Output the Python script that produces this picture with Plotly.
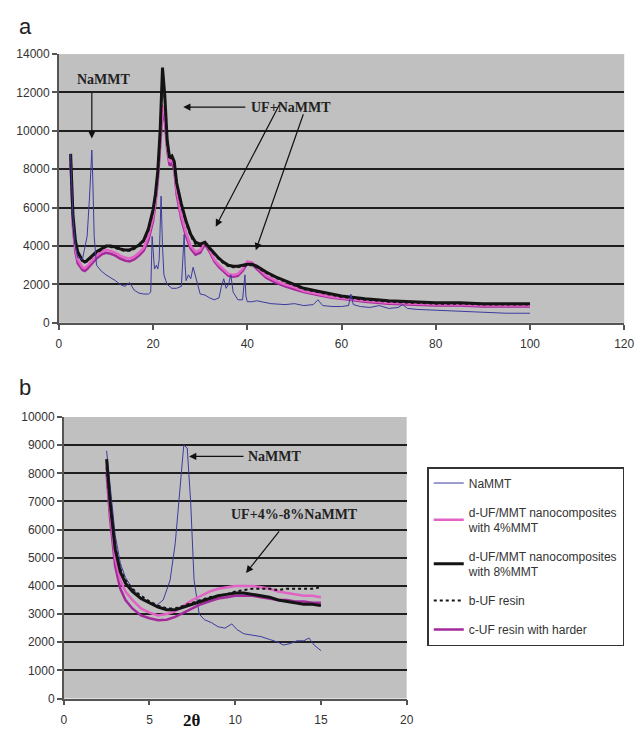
import plotly.graph_objects as go

# ---------------- data: panel a (full 2-theta scan) ----------------
x_top = [2.5, 3, 3.5, 4, 5, 5.5, 6, 7, 8, 9, 10, 11, 12, 13, 14, 15, 16, 17, 18, 19, 20, 20.5, 21, 21.5, 22,
         22.5, 23, 23.5, 24, 24.5, 25, 26, 27, 28, 29, 30, 31, 32, 33, 34, 35, 36, 37, 38, 39, 40, 41, 42, 43,
         44, 46, 48, 50, 52, 55, 58, 60, 65, 70, 75, 80, 85, 90, 95, 100]
d8_top = [8800, 5600, 4300, 3700, 3250, 3170, 3250, 3500, 3700, 3850, 4000, 4000, 3950, 3850, 3800, 3800, 3900,
          4050, 4300, 4900, 5900, 6700, 7900, 10000, 13300, 11800, 9500, 8600, 8700, 8400, 7300, 6200, 5300,
          4600, 4200, 4100, 4200, 3900, 3600, 3350, 3150, 3000, 2950, 2950, 3000, 3050, 3050, 2950, 2800, 2650,
          2400, 2200, 2000, 1800, 1650, 1500, 1400, 1250, 1150, 1100, 1050, 1050, 1000, 1000, 1000]
bUF_top = [8600, 5400, 4200, 3600, 3200, 3150, 3200, 3450, 3650, 3800, 3950, 3950, 3900, 3800, 3750, 3750, 3850,
           4000, 4250, 4800, 5800, 6600, 7800, 9800, 12800, 11500, 9300, 8500, 8600, 8300, 7200, 6100, 5200,
           4500, 4100, 4000, 4100, 3850, 3550, 3300, 3100, 2950, 2900, 2900, 2950, 3000, 3000, 2900, 2750, 2600,
           2350, 2150, 1950, 1750, 1600, 1450, 1350, 1200, 1100, 1050, 1000, 1000, 950, 950, 950]
d4_top = [8500, 5200, 3900, 3300, 2900, 2850, 2950, 3250, 3500, 3700, 3800, 3750, 3650, 3500, 3400, 3350, 3450,
          3650, 3900, 4500, 5500, 6400, 7600, 9500, 11300, 10800, 9200, 8400, 8500, 8200, 6900, 5600, 4700,
          4000, 3700, 3800, 4250, 3800, 3300, 3000, 2750, 2550, 2500, 2550, 2800, 3200, 3150, 2900, 2650, 2450,
          2200, 2000, 1850, 1650, 1500, 1350, 1300, 1150, 1050, 1000, 950, 950, 900, 900, 900]
cUF_top = [8300, 5000, 3700, 3100, 2750, 2700, 2800, 3100, 3350, 3550, 3650, 3600, 3500, 3350, 3250, 3200, 3300,
           3500, 3750, 4300, 5300, 6200, 7400, 9200, 11000, 10500, 9000, 8200, 8300, 8000, 6700, 5400, 4500,
           3850, 3550, 3650, 4100, 3700, 3200, 2900, 2650, 2450, 2400, 2450, 2700, 3100, 3050, 2800, 2550, 2350,
           2100, 1900, 1750, 1600, 1450, 1300, 1250, 1100, 1000, 950, 900, 900, 850, 850, 850]

x_na_top = [2.5, 3, 3.5, 4, 5, 6, 6.5, 6.8, 7, 7.2, 7.5, 8, 9, 10, 11, 12, 13, 14, 15, 16, 17, 18, 19, 19.5,
            19.8, 20, 20.3, 20.7, 21, 21.3, 21.7, 22, 22.3, 22.7, 23, 24, 25, 26, 26.4, 26.6, 26.8, 27, 27.5, 28,
            28.5, 29, 29.5, 30, 31, 32, 33, 34, 34.5, 35, 35.5, 36, 36.5, 37, 38, 39, 39.5, 39.7, 40, 41, 42, 45,
            48, 50, 52, 54, 55, 56, 58, 60, 61.5, 62, 62.5, 64, 66, 68, 70, 72, 73, 74, 76, 80, 85, 90, 95, 100]
na_top = [8800, 5500, 4000, 3400, 3300, 4500, 6500, 8500, 9000, 7500, 4500, 3000, 2700, 2500, 2350, 2200, 2000,
          1900, 2100, 1700, 1550, 1500, 1500, 1600, 4500, 3500, 2800, 3000, 2800, 3300, 6600, 4000, 2500, 2200,
          2000, 1800, 1800, 1900, 3500, 4600, 3000, 2200, 2500, 2300, 2900, 2400, 1900, 1500, 1450, 1300, 1200,
          1300, 1900, 2300, 1800, 2000, 2500, 1600, 1200, 1200, 2500, 1400, 1100, 1100, 1150, 1000, 950, 1000,
          900, 950, 1200, 900, 850, 850, 900, 1500, 950, 850, 800, 900, 750, 800, 950, 750, 700, 650, 600, 550,
          500, 500]

# ---------------- data: panel b (low-angle region) ----------------
x_na_bot = [2.5, 2.7, 3, 3.3, 3.6, 4, 4.5, 5, 5.4, 5.8, 6.2, 6.5, 6.8, 7, 7.2, 7.4, 7.6, 7.9, 8.2, 8.6, 9, 9.4,
            9.8, 10.1, 10.5, 11, 11.5, 12, 12.5, 12.8, 13.2, 13.6, 14, 14.3, 14.6, 15]
na_bot = [8800, 7500, 5800, 4800, 4300, 3900, 3600, 3400, 3300, 3500, 4200, 5500, 7500, 9000, 8900, 7000, 4200,
          3000, 2800, 2700, 2550, 2500, 2650, 2450, 2300, 2250, 2200, 2100, 2000, 1900, 1950, 2050, 2050, 2150,
          1900, 1700]
x_bot = [2.5, 2.7, 3, 3.3, 3.6, 4, 4.5, 5, 5.5, 6, 6.5, 7, 7.5, 8, 8.5, 9, 9.5, 10, 10.5, 11, 11.5, 12, 12.5, 13,
         13.5, 14, 14.5, 15]
d8_bot = [8500, 7000, 5300, 4500, 4100, 3800, 3550, 3400, 3250, 3150, 3150, 3250, 3350, 3450, 3550, 3650, 3700,
          3750, 3750, 3700, 3650, 3600, 3500, 3450, 3400, 3350, 3350, 3300]
bUF_bot = [8200, 6900, 5400, 4600, 4200, 3900, 3650, 3450, 3300, 3200, 3200, 3300, 3400, 3500, 3600, 3650, 3700,
           3800, 3850, 3900, 3900, 3900, 3850, 3900, 3900, 3900, 3900, 3950]
d4_bot = [8300, 6700, 5000, 4200, 3800, 3500, 3200, 3050, 2950, 3000, 3100, 3300, 3500, 3650, 3800, 3900, 3950,
          4000, 4000, 4000, 3950, 3900, 3800, 3750, 3700, 3650, 3650, 3600]
cUF_bot = [8000, 6400, 4700, 3900, 3500, 3200, 2950, 2850, 2780, 2800, 2900, 3050, 3200, 3350, 3450, 3550, 3600,
           3650, 3650, 3650, 3600, 3550, 3500, 3500, 3450, 3450, 3400, 3400]

names = ["NaMMT", "d-UF/MMT nanocomposites<br>with 4%MMT", "d-UF/MMT nanocomposites<br>with 8%MMT",
         "b-UF resin", "c-UF resin with harder"]

# ---------------- styles ----------------
C_NA = "#3b3b9e"
C_D4 = "#e262c6"
C_D8 = "#141414"
C_B = "#141414"
C_C = "#a42a9c"

fig = go.Figure()

# panel a traces
fig.add_trace(go.Scatter(x=x_top, y=cUF_top, mode="lines", line=dict(color=C_C, width=2.5),
                         xaxis="x", yaxis="y", showlegend=False))
fig.add_trace(go.Scatter(x=x_top, y=d4_top, mode="lines", line=dict(color=C_D4, width=2.5),
                         xaxis="x", yaxis="y", showlegend=False))
fig.add_trace(go.Scatter(x=x_top, y=bUF_top, mode="lines", line=dict(color=C_B, width=2, dash="dot"),
                         xaxis="x", yaxis="y", showlegend=False))
fig.add_trace(go.Scatter(x=x_top, y=d8_top, mode="lines", line=dict(color=C_D8, width=3),
                         xaxis="x", yaxis="y", showlegend=False))
fig.add_trace(go.Scatter(x=x_na_top, y=na_top, mode="lines", line=dict(color=C_NA, width=1),
                         xaxis="x", yaxis="y", showlegend=False))

# panel b traces (legend)
fig.add_trace(go.Scatter(x=x_na_bot, y=na_bot, mode="lines", name=names[0], line=dict(color=C_NA, width=1),
                         xaxis="x2", yaxis="y2", legendrank=1, legendgroup="g1"))
fig.add_trace(go.Scatter(x=x_bot, y=cUF_bot, mode="lines", name=names[4], line=dict(color=C_C, width=2.5),
                         xaxis="x2", yaxis="y2", legendrank=5, legendgroup="g5"))
fig.add_trace(go.Scatter(x=x_bot, y=d4_bot, mode="lines", name=names[1], line=dict(color=C_D4, width=2.5),
                         xaxis="x2", yaxis="y2", legendrank=2, legendgroup="g2"))
fig.add_trace(go.Scatter(x=x_bot, y=d8_bot, mode="lines", name=names[2], line=dict(color=C_D8, width=3),
                         xaxis="x2", yaxis="y2", legendrank=3, legendgroup="g3"))
fig.add_trace(go.Scatter(x=x_bot, y=bUF_bot, mode="lines", name=names[3], line=dict(color=C_B, width=2, dash="dot"),
                         xaxis="x2", yaxis="y2", legendrank=4, legendgroup="g4"))

W, H = 644, 732
tickfont = dict(family="Liberation Sans, Arial", size=12, color="#333333")
axis_common = dict(showline=True, linecolor="#555555", linewidth=1.5, ticks="outside", ticklen=5,
                   tickcolor="#555555", tickwidth=1.5, tickfont=tickfont, zeroline=False, tickformat="d")

fig.update_layout(
    width=W, height=H, margin=dict(l=0, r=0, t=0, b=0),
    paper_bgcolor="white", plot_bgcolor="#c0c0c0",
    xaxis=dict(domain=[57 / W, 634 / W], anchor="y", range=[0, 120], dtick=20, showgrid=False,
               ticklabelstandoff=4, **axis_common),
    yaxis=dict(domain=[1 - 322 / H, 1 - 48 / H], anchor="x", range=[0, 14000], dtick=2000,
               showgrid=True, gridcolor="#1e1e1e", gridwidth=1.5, **axis_common),
    xaxis2=dict(domain=[62 / W, 412 / W], anchor="y2", range=[0, 20], dtick=5, showgrid=False,
                ticklabelstandoff=4, **axis_common),
    yaxis2=dict(domain=[1 - 705 / H, 1 - 418 / H], anchor="x2", range=[0, 10000], dtick=1000,
                showgrid=True, gridcolor="#1e1e1e", gridwidth=1.5, **axis_common),
    legend=dict(x=433 / W, y=1 - 469 / H, xanchor="left", yanchor="top", bgcolor="white",
                bordercolor="#333333", borderwidth=1.5, tracegroupgap=10,
                font=dict(family="Liberation Sans, Arial", size=12, color="#333333"),
                itemwidth=30, traceorder="grouped"),
    showlegend=True,
)

serif_bold = dict(family="Liberation Serif, Times New Roman", size=14, color="#222222")
arrow = dict(showarrow=True, arrowhead=2, arrowsize=1.2, arrowwidth=1.2, arrowcolor="#111111", text="")

annotations = [
    # panel labels
    dict(text="a", x=14 / W, y=1 - 20 / H, xref="paper", yref="paper", showarrow=False,
         font=dict(family="Liberation Sans, Arial", size=22, color="#222"), xanchor="left", yanchor="middle"),
    dict(text="b", x=14 / W, y=1 - 388 / H, xref="paper", yref="paper", showarrow=False,
         font=dict(family="Liberation Sans, Arial", size=22, color="#222"), xanchor="left", yanchor="middle"),
    dict(text="<b>2θ</b>", x=193 / W, y=1 - 727 / H, xref="paper", yref="paper", showarrow=False,
         font=dict(family="Liberation Serif, Times New Roman", size=17, color="#111"),
         xanchor="center", yanchor="middle"),
    # panel a text
    dict(text="<b>NaMMT</b>", x=9.6, y=12700, xref="x", yref="y", showarrow=False, font=serif_bold),
    dict(text="<b>UF+NaMMT</b>", x=49.3, y=11240, xref="x", yref="y", showarrow=False, font=serif_bold),
    # panel a arrows
    dict(x=7.0, y=9600, ax=7.0, ay=12050, xref="x", yref="y", axref="x", ayref="y", **arrow),
    dict(x=26.4, y=11240, ax=39.9, ay=11240, xref="x", yref="y", axref="x", ayref="y", **arrow),
    dict(x=33.3, y=5010, ax=47.0, ay=11450, xref="x", yref="y", axref="x", ayref="y", **arrow),
    dict(x=41.8, y=3780, ax=52.0, ay=10940, xref="x", yref="y", axref="x", ayref="y", **arrow),
    # panel b text
    dict(text="<b>NaMMT</b>", x=12.34, y=8600, xref="x2", yref="y2", showarrow=False, font=serif_bold),
    dict(text="<b>UF+4%-8%NaMMT</b>", x=13.43, y=6520, xref="x2", yref="y2", showarrow=False, font=serif_bold),
    # panel b arrows
    dict(x=7.31, y=8600, ax=10.57, ay=8600, xref="x2", yref="y2", axref="x2", ayref="y2", **arrow),
    dict(x=10.63, y=4460, ax=12.63, ay=5990, xref="x2", yref="y2", axref="x2", ayref="y2", **arrow),
]
fig.update_layout(annotations=annotations)

fig.write_html("out.html")
